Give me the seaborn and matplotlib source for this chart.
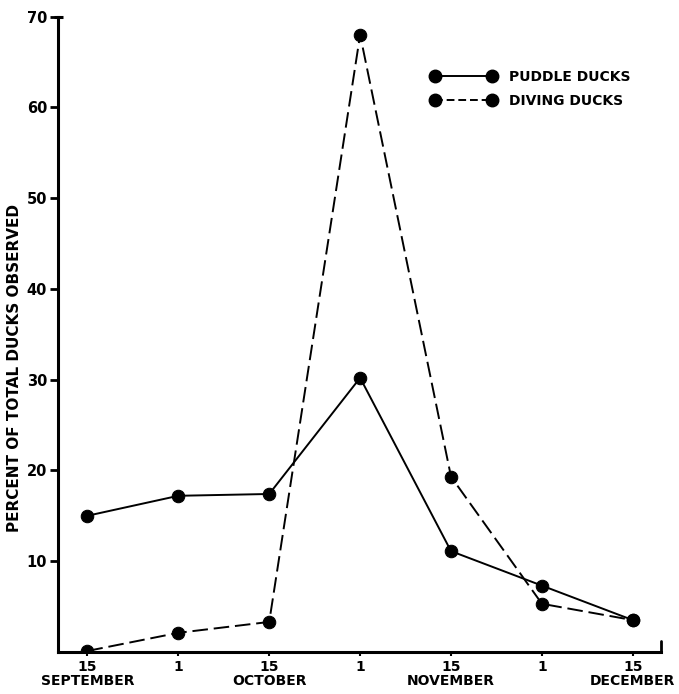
import matplotlib
matplotlib.use("Agg")
import matplotlib.pyplot as plt
from matplotlib.lines import Line2D
import seaborn as sns
import pandas as pd

# Survey dates (half-month steps) and tick labels
dates = ["Sep 15", "Oct 1", "Oct 15", "Nov 1", "Nov 15", "Dec 1", "Dec 15"]
tick_labels = ["15\nSEPTEMBER", "1", "15\nOCTOBER", "1", "15\nNOVEMBER", "1", "15\nDECEMBER"]

# Percent of total ducks observed on each date
puddle_ducks = [15.0, 17.2, 17.4, 30.2, 11.1, 7.3, 3.5]
diving_ducks = [0.1, 2.1, 3.3, 68.0, 19.3, 5.3, 3.5]

y_ticks = [10, 20, 30, 40, 50, 60, 70]

df = pd.DataFrame({
    "pos": list(range(len(dates))) * 2,
    "pct": puddle_ducks + diving_ducks,
    "group": ["PUDDLE DUCKS"] * len(dates) + ["DIVING DUCKS"] * len(dates),
})

sns.set_style("white")
plt.rcParams["font.family"] = ["DejaVu Sans"]
plt.rcParams["font.weight"] = "bold"
plt.rcParams["text.color"] = "black"
plt.rcParams["xtick.color"] = "black"
plt.rcParams["ytick.color"] = "black"
plt.rcParams["xtick.labelcolor"] = "black"
plt.rcParams["ytick.labelcolor"] = "black"

fig = plt.figure(figsize=(6.79, 6.94), dpi=100)
ax = fig.add_axes([0.0859, 0.0607, 0.9735 - 0.0859, 0.976 - 0.0607])

lw = 1.4
ms = 9
dash = (8, 3)
sns.lineplot(data=df[df.group == "PUDDLE DUCKS"], x="pos", y="pct", ax=ax,
             color="black", linewidth=lw, marker="o", markersize=ms,
             markeredgecolor="black", legend=False)
sns.lineplot(data=df[df.group == "DIVING DUCKS"], x="pos", y="pct", ax=ax,
             color="black", linewidth=lw, marker="o", markersize=ms,
             markeredgecolor="black", legend=False)
ax.lines[1].set_dashes(dash)

ax.set_xlim(-0.32, 6.31)
ax.set_ylim(0, 70)
ax.set_xticks(range(len(dates)))
ax.set_xticklabels(tick_labels, fontsize=10, fontweight="bold", linespacing=1.0,
                   color="black")
ax.set_yticks(y_ticks)
ax.set_yticklabels([str(v) for v in y_ticks], fontsize=10.5, fontweight="bold",
                   color="black")
ax.set_xlabel("")
ax.set_ylabel("")

for side in ["top", "right"]:
    ax.spines[side].set_visible(False)
for side in ["left", "bottom"]:
    ax.spines[side].set_linewidth(2.2)
    ax.spines[side].set_color("black")

ax.tick_params(axis="y", direction="out", length=6, width=2, pad=2, left=True)
ax.tick_params(axis="x", direction="out", length=3, width=1.5, pad=3, bottom=True)

# end caps on the axes
ax.plot([-0.32 - 0.05, -0.32 + 0.05], [70, 70], color="black", lw=2.2,
        clip_on=False, solid_capstyle="butt")
ax.plot([6.31, 6.31], [0, 1.2], color="black", lw=2.0, clip_on=False)

fig.text(15 / 679, 1 - 368 / 694, "PERCENT OF TOTAL DUCKS OBSERVED",
         rotation=90, ha="center", va="center", fontsize=11, fontweight="bold",
         color="black")

handles = [
    Line2D([0], [0], color="black", lw=lw, marker="o", markersize=ms),
    Line2D([0], [0], color="black", lw=lw, marker="o", markersize=ms, dashes=(4, 2)),
]
leg = ax.legend(handles, ["PUDDLE DUCKS", "DIVING DUCKS"], loc="center left",
                bbox_to_anchor=(0.6185, 0.8864), frameon=False, numpoints=2,
                borderaxespad=0, borderpad=0,
                handlelength=4.7, handletextpad=0.9, labelspacing=0.75,
                prop={"size": 10, "weight": "bold"})
for t in leg.get_texts():
    t.set_color("black")

fig.savefig("out.png", dpi=100, facecolor="white")
